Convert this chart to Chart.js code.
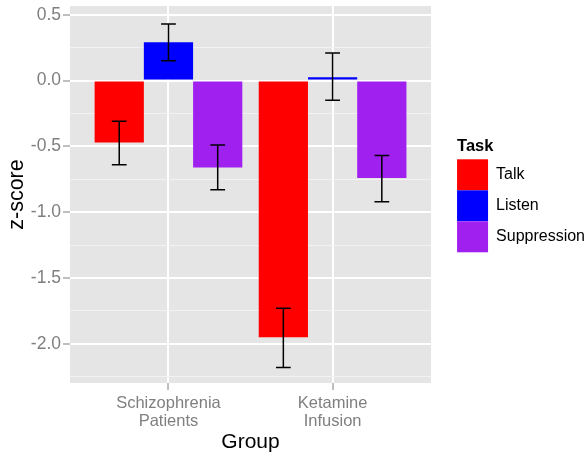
<!DOCTYPE html>
<html>
<head>
<meta charset="utf-8">
<script src="https://cdn.jsdelivr.net/npm/chart.js@4"></script>
<style>
  html, body { margin: 0; padding: 0; background: #fff; }
</style>
</head>
<body>
<canvas id="zs_chart" width="587" height="456"></canvas>
<script>
    // groups on the x axis (ggplot discrete positions 1, 2)
    const groupNames = [['Schizophrenia', 'Patients'], ['Ketamine', 'Infusion']];
    const groupPos = [1, 2];

    // tasks / series
    const tasks = ['Talk', 'Listen', 'Suppression'];
    const taskColors = ['#ff0000', '#0000ff', '#a020f0'];

    // mean z-scores per group
    const talkMean = [-0.47, -1.95];
    const listenMean = [0.29, 0.025];
    const suppMean = [-0.66, -0.74];

    // error bar limits
    const talkLow = [-0.64, -2.18];
    const talkHigh = [-0.31, -1.73];
    const listenLow = [0.15, -0.15];
    const listenHigh = [0.43, 0.21];
    const suppLow = [-0.83, -0.92];
    const suppHigh = [-0.49, -0.57];

    // y ticks
    const yMajorTicks = [-2.0, -1.5, -1.0, -0.5, 0.0, 0.5];
    const yMinorTicks = [-2.25, -1.75, -1.25, -0.75, -0.25, 0.25];

    const fontFamily = '"Liberation Sans", Arial, sans-serif';
    Chart.defaults.font.family = fontFamily;

    const means = [talkMean, listenMean, suppMean];
    const lows = [talkLow, listenLow, suppLow];
    const highs = [talkHigh, listenHigh, suppHigh];

    function toXY(values) {
        var result = [];
        for (var i = 0; i < values.length; i++) {
            result.push({x: groupPos[i], y: values[i]});
        }
        return result;
    }

    function isMinor(ctx) {
        return ctx.tick && yMinorTicks.includes(ctx.tick.value);
    }

    // grey panel like ggplot
    const panelBg = {
        id: 'panelBg',
        beforeDraw(chart) {
            const a = chart.chartArea;
            const ctx = chart.ctx;
            ctx.save();
            ctx.fillStyle = '#e5e5e5';
            ctx.fillRect(a.left, a.top, a.right - a.left, a.bottom - a.top);
            ctx.restore();
        }
    };

    // error bars on top of each bar
    const errorBars = {
        id: 'errorBars',
        afterDatasetsDraw(chart) {
            const ctx = chart.ctx;
            const yScale = chart.scales.y;
            ctx.save();
            ctx.strokeStyle = '#000';
            ctx.lineWidth = 1.5;
            chart.data.datasets.forEach((ds, i) => {
                const meta = chart.getDatasetMeta(i);
                meta.data.forEach((bar, j) => {
                    const x = bar.x;
                    const half = bar.width * 0.15;
                    const yLo = yScale.getPixelForValue(lows[i][j]);
                    const yHi = yScale.getPixelForValue(highs[i][j]);
                    ctx.beginPath();
                    ctx.moveTo(x, yLo); ctx.lineTo(x, yHi);
                    ctx.moveTo(x - half, yLo); ctx.lineTo(x + half, yLo);
                    ctx.moveTo(x - half, yHi); ctx.lineTo(x + half, yHi);
                    ctx.stroke();
                });
            });
            ctx.restore();
        }
    };

    // leave a gap between the panel and the legend
    const legendGap = {
        id: 'legendGap',
        beforeLayout(chart, args, opts) {
            const leg = chart.legend;
            if (leg && !leg._gapWrapped) {
                const fit = leg.fit.bind(leg);
                leg.fit = function () { fit(); this.width += opts.extra; };
                leg._gapWrapped = true;
            }
        },
        afterLayout(chart, args, opts) {
            if (chart.legend) chart.legend.left += opts.shift;
        }
    };

    const datasets = tasks.map((t, i) => ({
        label: t,
        data: toXY(means[i]),
        backgroundColor: taskColors[i],
        borderWidth: 0,
        categoryPercentage: 0.9,
        barPercentage: 1.0,
    }));

    try {
        const chartCanvas = document.getElementById('zs_chart').getContext('2d');
        new Chart(chartCanvas, {
            type: 'bar',
            data: { datasets: datasets },
            plugins: [panelBg, errorBars, legendGap],
            options: {
                responsive: false,
                animation: false,
                layout: { padding: { top: 6, right: 0, bottom: 0, left: 0 } },
                plugins: {
                    tooltip: { enabled: false },
                    legendGap: { extra: 18, shift: 26 },
                    legend: {
                        position: 'right',
                        align: 'start',
                        title: {
                            display: true,
                            text: 'Task',
                            position: 'start',
                            color: '#000',
                            font: { size: 16.5, weight: 'bold' },
                            padding: { top: 132, bottom: 1.5 },
                        },
                        labels: {
                            boxWidth: 31,
                            boxHeight: 31,
                            padding: 0,
                            color: '#000',
                            font: { size: 16 },
                        },
                    },
                },
                scales: {
                    x: {
                        type: 'linear',
                        min: 0.4,
                        max: 2.6,
                        offset: false,
                        afterBuildTicks: (scale) => {
                            scale.ticks = groupPos.map(v => ({value: v}));
                        },
                        afterFit: (scale) => {
                            scale.height = 73;
                            scale.paddingLeft = 0;
                            scale.paddingRight = 0;
                        },
                        border: { display: false },
                        grid: {
                            offset: false,
                            color: '#ffffff',
                            lineWidth: 2,
                            tickColor: '#7f7f7f',
                            tickLength: 7,
                            tickWidth: 1,
                        },
                        ticks: {
                            autoSkip: false,
                            maxRotation: 0,
                            color: '#7f7f7f',
                            padding: 4,
                            font: { size: 16.5, lineHeight: 1.1 },
                            callback: function (value) {
                                const k = groupPos.indexOf(value);
                                return k >= 0 ? groupNames[k] : '';
                            },
                        },
                        title: {
                            display: true,
                            text: 'Group',
                            color: '#000',
                            font: { size: 21 },
                            padding: { top: 0, bottom: 1 },
                        },
                    },
                    y: {
                        min: -2.297,
                        max: 0.566,
                        afterBuildTicks: (scale) => {
                            scale.ticks = yMajorTicks.concat(yMinorTicks)
                                .sort((a, b) => a - b)
                                .map(v => ({value: v}));
                        },
                        afterFit: (scale) => {
                            scale.width = 70;
                            scale.paddingTop = 0;
                            scale.paddingBottom = 0;
                        },
                        border: { display: false },
                        grid: {
                            color: (ctx) => isMinor(ctx) ? '#f2f2f2' : '#ffffff',
                            lineWidth: (ctx) => isMinor(ctx) ? 1 : 2,
                            tickColor: (ctx) => isMinor(ctx) ? 'rgba(0,0,0,0)' : '#7f7f7f',
                            tickLength: 7,
                            tickWidth: 1,
                        },
                        ticks: {
                            autoSkip: false,
                            color: '#7f7f7f',
                            padding: 2,
                            font: { size: 17.5 },
                            callback: function (value) {
                                return yMajorTicks.includes(value) ? value.toFixed(1) : '';
                            },
                        },
                        title: {
                            display: true,
                            text: 'z-score',
                            color: '#000',
                            font: { size: 21.5 },
                            padding: { top: 4, bottom: 0 },
                        },
                    },
                },
            },
        });
    } catch (error) {
        console.log(`error: ${error.message}`);
    }
</script>
</body>
</html>
